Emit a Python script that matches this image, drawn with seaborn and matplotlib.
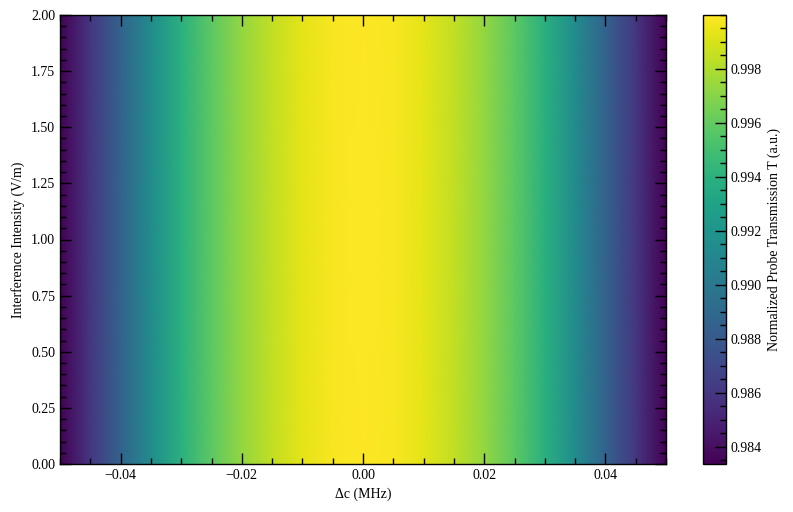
import numpy as np
import matplotlib
matplotlib.use("Agg")
import matplotlib.pyplot as plt
import seaborn as sns
from matplotlib.ticker import AutoMinorLocator, MultipleLocator

# ---------- DATA ----------
detuning = [-0.050, -0.045, -0.040, -0.035, -0.030, -0.025, -0.020, -0.015, -0.010, -0.005,
            0.000, 0.005, 0.010, 0.015, 0.020, 0.025, 0.030, 0.035, 0.040, 0.045, 0.050]
transmission = [0.98337, 0.9860, 0.9886, 0.9914, 0.9939, 0.9958, 0.9973, 0.9985, 0.99934, 0.99983,
                1.0000, 0.99983, 0.99934, 0.9985, 0.9973, 0.9958, 0.9939, 0.9914, 0.9886, 0.9860, 0.98337]
intensity = [0.0, 2.0]

# ---------- STYLE ----------
sns.set_style("ticks")
plt.rcParams["font.family"] = ["Liberation Serif", "DejaVu Serif"]
plt.rcParams["font.size"] = 10
plt.rcParams["axes.axisbelow"] = False
plt.rcParams["axes.edgecolor"] = "black"
plt.rcParams["xtick.color"] = "black"
plt.rcParams["ytick.color"] = "black"
plt.rcParams["text.color"] = "black"
plt.rcParams["axes.labelcolor"] = "black"

fig = plt.figure(figsize=(7.93, 5.12), dpi=100)
ax = fig.add_axes([60 / 793, 1 - 464 / 512, 606 / 793, 449 / 512])
cax = fig.add_axes([703 / 793, 1 - 464 / 512, 23 / 793, 449 / 512])

grid = np.tile(transmission, (len(intensity), 1))
mesh = ax.pcolormesh(detuning, intensity, grid, cmap="viridis", shading="gouraud")

ax.set_xlim(-0.05, 0.05)
ax.set_ylim(0, 2)
ax.set_axisbelow(False)
ax.xaxis.set_major_locator(MultipleLocator(0.02))
ax.yaxis.set_major_locator(MultipleLocator(0.25))
ax.xaxis.set_minor_locator(AutoMinorLocator())
ax.yaxis.set_minor_locator(AutoMinorLocator())
ax.tick_params(which="both", direction="in", top=True, right=True, labelsize=10, width=1)
ax.tick_params(which="major", length=8)
ax.tick_params(which="minor", length=4)
for s in ax.spines.values():
    s.set_linewidth(1)
ax.set_xlabel("Δc (MHz)", fontsize=10)
ax.set_ylabel("Interference Intensity (V/m)", fontsize=10)

cb = fig.colorbar(mesh, cax=cax)
cax.set_axisbelow(False)
cb.set_ticks([0.984, 0.986, 0.988, 0.990, 0.992, 0.994, 0.996, 0.998])
cb.ax.yaxis.set_minor_locator(MultipleLocator(0.0005))
cb.ax.tick_params(which="both", direction="in", labelsize=10, width=1)
cb.ax.tick_params(which="major", length=8)
cb.ax.tick_params(which="minor", length=4)
cb.outline.set_linewidth(1)
cb.set_label("Normalized Probe Transmission T (a.u.)", fontsize=10)

fig.savefig("out.png", dpi=100)
